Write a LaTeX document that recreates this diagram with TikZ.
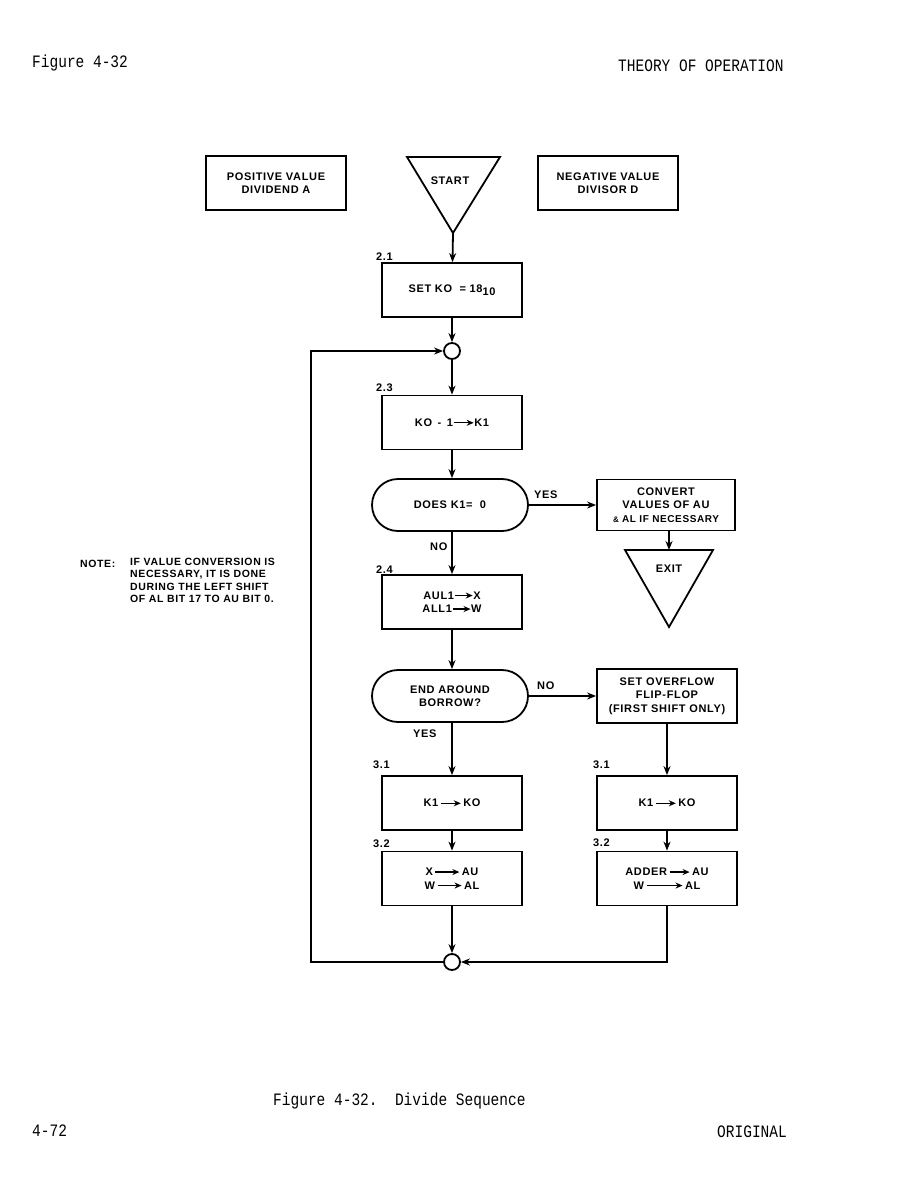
\documentclass[tikz,border=0pt]{standalone}
\usepackage{fontspec}
\usetikzlibrary{arrows.meta}
\newfontfamily\lf{Liberation Sans}[LetterSpace=6]
\newfontfamily\tw{Liberation Mono}
\newcommand\tarr[1]{\tikz[baseline=-0.6ex,x=1pt,y=1pt]\draw[-{Stealth[length=7pt,width=6pt]},line width=1.3pt] (0,0)--(#1,0);}
\newcommand\pgt[1]{\scalebox{1}[1.2]{#1}}
\tikzset{
  box/.style={draw,line width=1.8pt,minimum width=140pt,minimum height=54pt,inner sep=0pt,align=center,font=\lf\bfseries\fontsize{11}{13.5}\selectfont},
  dec/.style={box,minimum width=156pt,minimum height=52pt,rounded corners=26pt},
  jn/.style={draw,circle,line width=1.8pt,minimum size=16pt,inner sep=0pt},
  lbl/.style={font=\lf\bfseries\fontsize{11}{13}\selectfont,inner sep=0pt,anchor=base west},
  txt/.style={font=\lf\bfseries\fontsize{11}{13}\selectfont,inner sep=0pt,align=center},
  pg/.style={font=\tw\fontsize{14.5}{16}\selectfont,inner sep=0pt,anchor=base west},
  arr/.style={line width=1.8pt,-{Stealth[length=9pt,width=7pt]}},
  tri/.style={line width=1.8pt,line join=miter}
}
\begin{document}
\begin{tikzpicture}[x=1pt,y=-1pt]
\useasboundingbox (0,0) rectangle (921,1189);
% page texts
\node[pg] (h1) at (32,67) {\pgt{Figure 4-32}};
\node[pg] (h2) at (618,71) {\pgt{THEORY OF OPERATION}};
\node[pg] (cap) at (273,1105) {\pgt{Figure 4-32.\ \ Divide Sequence}};
\node[pg] (pn) at (32,1136) {\pgt{4-72}};
\node[pg] (orig) at (717,1137) {\pgt{ORIGINAL}};
% top boxes
\node[box] (pos) at (276,183) {POSITIVE VALUE\\DIVIDEND A};
\node[box] (neg) at (608,183) {NEGATIVE VALUE\\DIVISOR D};
% start triangle
\draw[tri] (407,157) -- (500,157) -- (453,233) -- cycle;
\coordinate (st) at (453,233);
\node[txt] (sttxt) at (450,181) {START};
% main column
\node[box] (b21) at (452,290) {SET KO \ = 18\raisebox{-3.5pt}{10}};
\node[lbl] (l21) at (376,260) {2.1};
\node[jn] (jt) at (452,351) {};
\node[box] (b23) at (452,422.5) {KO \,-\, 1\tarr{20}K1};
\node[lbl] (l23) at (376,391) {2.3};
\node[dec] (d1) at (450,505) {DOES K1=\ \ 0};
\node[box,minimum width=138pt,minimum height=51pt] (conv) at (666,505) {CONVERT\\VALUES OF AU\\\footnotesize\&\normalsize\ AL IF NECESSARY};
\draw[tri] (625,550) -- (713,550) -- (669,627) -- cycle;
\coordinate (ex) at (669,550);
\node[txt] (extxt) at (669,569) {EXIT};
\node[box] (b24) at (452,602) {AUL1\tarr{18}X\\ALL1\tarr{18}W};
\node[lbl] (l24) at (376,573) {2.4};
\node[dec,text depth=0pt] (d2) at (450,696) {END AROUND\\BORROW?};
\node[box] (ovf) at (667,696) {SET OVERFLOW\\FLIP-FLOP\\(FIRST SHIFT ONLY)};
\node[box] (b31) at (452,803) {K1\,\tarr{20}\,KO};
\node[lbl] (l31) at (373,768) {3.1};
\node[box] (b32) at (452,878.5) {X\,\tarr{24}\,AU\\W\,\tarr{24}\,AL};
\node[lbl] (l32) at (373,847) {3.2};
\node[box] (r31) at (667,803) {K1\,\tarr{20}\,KO};
\node[lbl] (lr31) at (593,768) {3.1};
\node[box] (r32) at (667,878.5) {ADDER\,\tarr{20}\,AU\\W\,\tarr{36}\,AL};
\node[lbl] (lr32) at (593,846) {3.2};
\node[jn] (jb) at (452,962) {};
\coordinate (lb) at (311,962);
% flow labels
\node[lbl] (yes1) at (534,498) {YES};
\node[lbl] (no1) at (430,550) {NO};
\node[lbl] (no2) at (537,689) {NO};
\node[lbl] (yes2) at (413,737) {YES};
% note
\node[font=\lf\bfseries\fontsize{10.5}{12.3}\selectfont,inner sep=0pt,anchor=base west] (nt) at (80,567) {NOTE:};
\node[font=\lf\bfseries\fontsize{10.5}{12.3}\selectfont,inner sep=0pt,anchor=north west,align=left] (note) at (130,558) {IF VALUE CONVERSION IS\\NECESSARY, IT IS DONE\\DURING THE LEFT SHIFT\\OF AL BIT 17 TO AU BIT 0.};
% connectors
\draw[arr] (st) -- (b21);
\draw[arr] (b21) -- (jt);
\draw[arr] (jt) -- (b23);
\draw[arr] (b23) -- (d1.north -| b23);
\draw[arr] (d1.east) -- (conv.west);
\draw[arr] (conv.south -| ex) -- (ex);
\draw[arr] (d1.south -| b23) -- (b24);
\draw[arr] (b24) -- (d2.north -| b24);
\draw[arr] (d2.east) -- (ovf.west);
\draw[arr] (d2.south -| b24) -- (b31);
\draw[arr] (b31) -- (b32);
\draw[arr] (b32) -- (jb);
\draw[arr] (ovf) -- (r31);
\draw[arr] (r31) -- (r32);
\draw[arr] (r32.south) |- (jb.east);
\draw[arr] (jb.west) -- (lb) |- (jt.west);
\end{tikzpicture}
\end{document}
